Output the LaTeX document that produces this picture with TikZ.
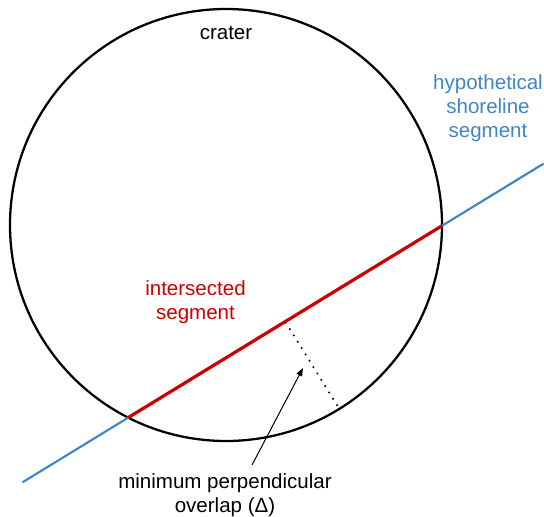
\documentclass[tikz,border=0pt]{standalone}
\usepackage{fontspec}
\setmainfont{Liberation Sans}
\usetikzlibrary{arrows.meta}
\definecolor{shoreblue}{HTML}{3D85C6}
\definecolor{segred}{HTML}{CC0000}
\tikzset{
  lbl/.style={inner sep=0pt, font=\fontsize{15.4}{18}\selectfont, align=center},
  craterline/.style={draw=black, line width=1.7pt},
  shoreline/.style={draw=shoreblue, line width=1.6pt, line cap=round},
  interseg/.style={draw=segred, line width=2.4pt},
  perpdots/.style={draw=black, line width=1.2pt, dash pattern=on 1.2pt off 4.4pt},
  pointer/.style={draw=black, line width=0.75pt, -{Triangle[length=6pt,width=4.5pt]}}
}
\begin{document}
\begin{tikzpicture}[x=0.75pt,y=-0.75pt]
\useasboundingbox (0,0) rectangle (544,517);
% geometry
\coordinate (C) at (226,225);
\coordinate (A) at (23,482);
\coordinate (B) at (543,164);
\coordinate (P) at (128.2,417.6);
\coordinate (Q) at (442.1,225.7);
\coordinate (F) at (285.5,322);
\coordinate (G) at (337.5,406);
\coordinate (T) at (252,465);
\coordinate (H) at (303,368);
% shapes
\draw[craterline] (C) circle (216);
\draw[shoreline] (A) -- (B);
\draw[interseg] (P) -- (Q);
\draw[perpdots] (F) -- (G);
\draw[pointer] (T) -- (H);
% labels
\node[lbl, anchor=base] (crater) at (226,40) {crater};
\node[lbl, anchor=center, text=shoreblue] (shore) at (488,108.5) {hypothetical\\shoreline\\segment};
\node[lbl, anchor=center, text=segred] (inter) at (195.5,302.5) {intersected\\segment};
\node[lbl, anchor=center] (minp) at (225,495) {minimum perpendicular\\overlap (Δ)};
\end{tikzpicture}
\end{document}
